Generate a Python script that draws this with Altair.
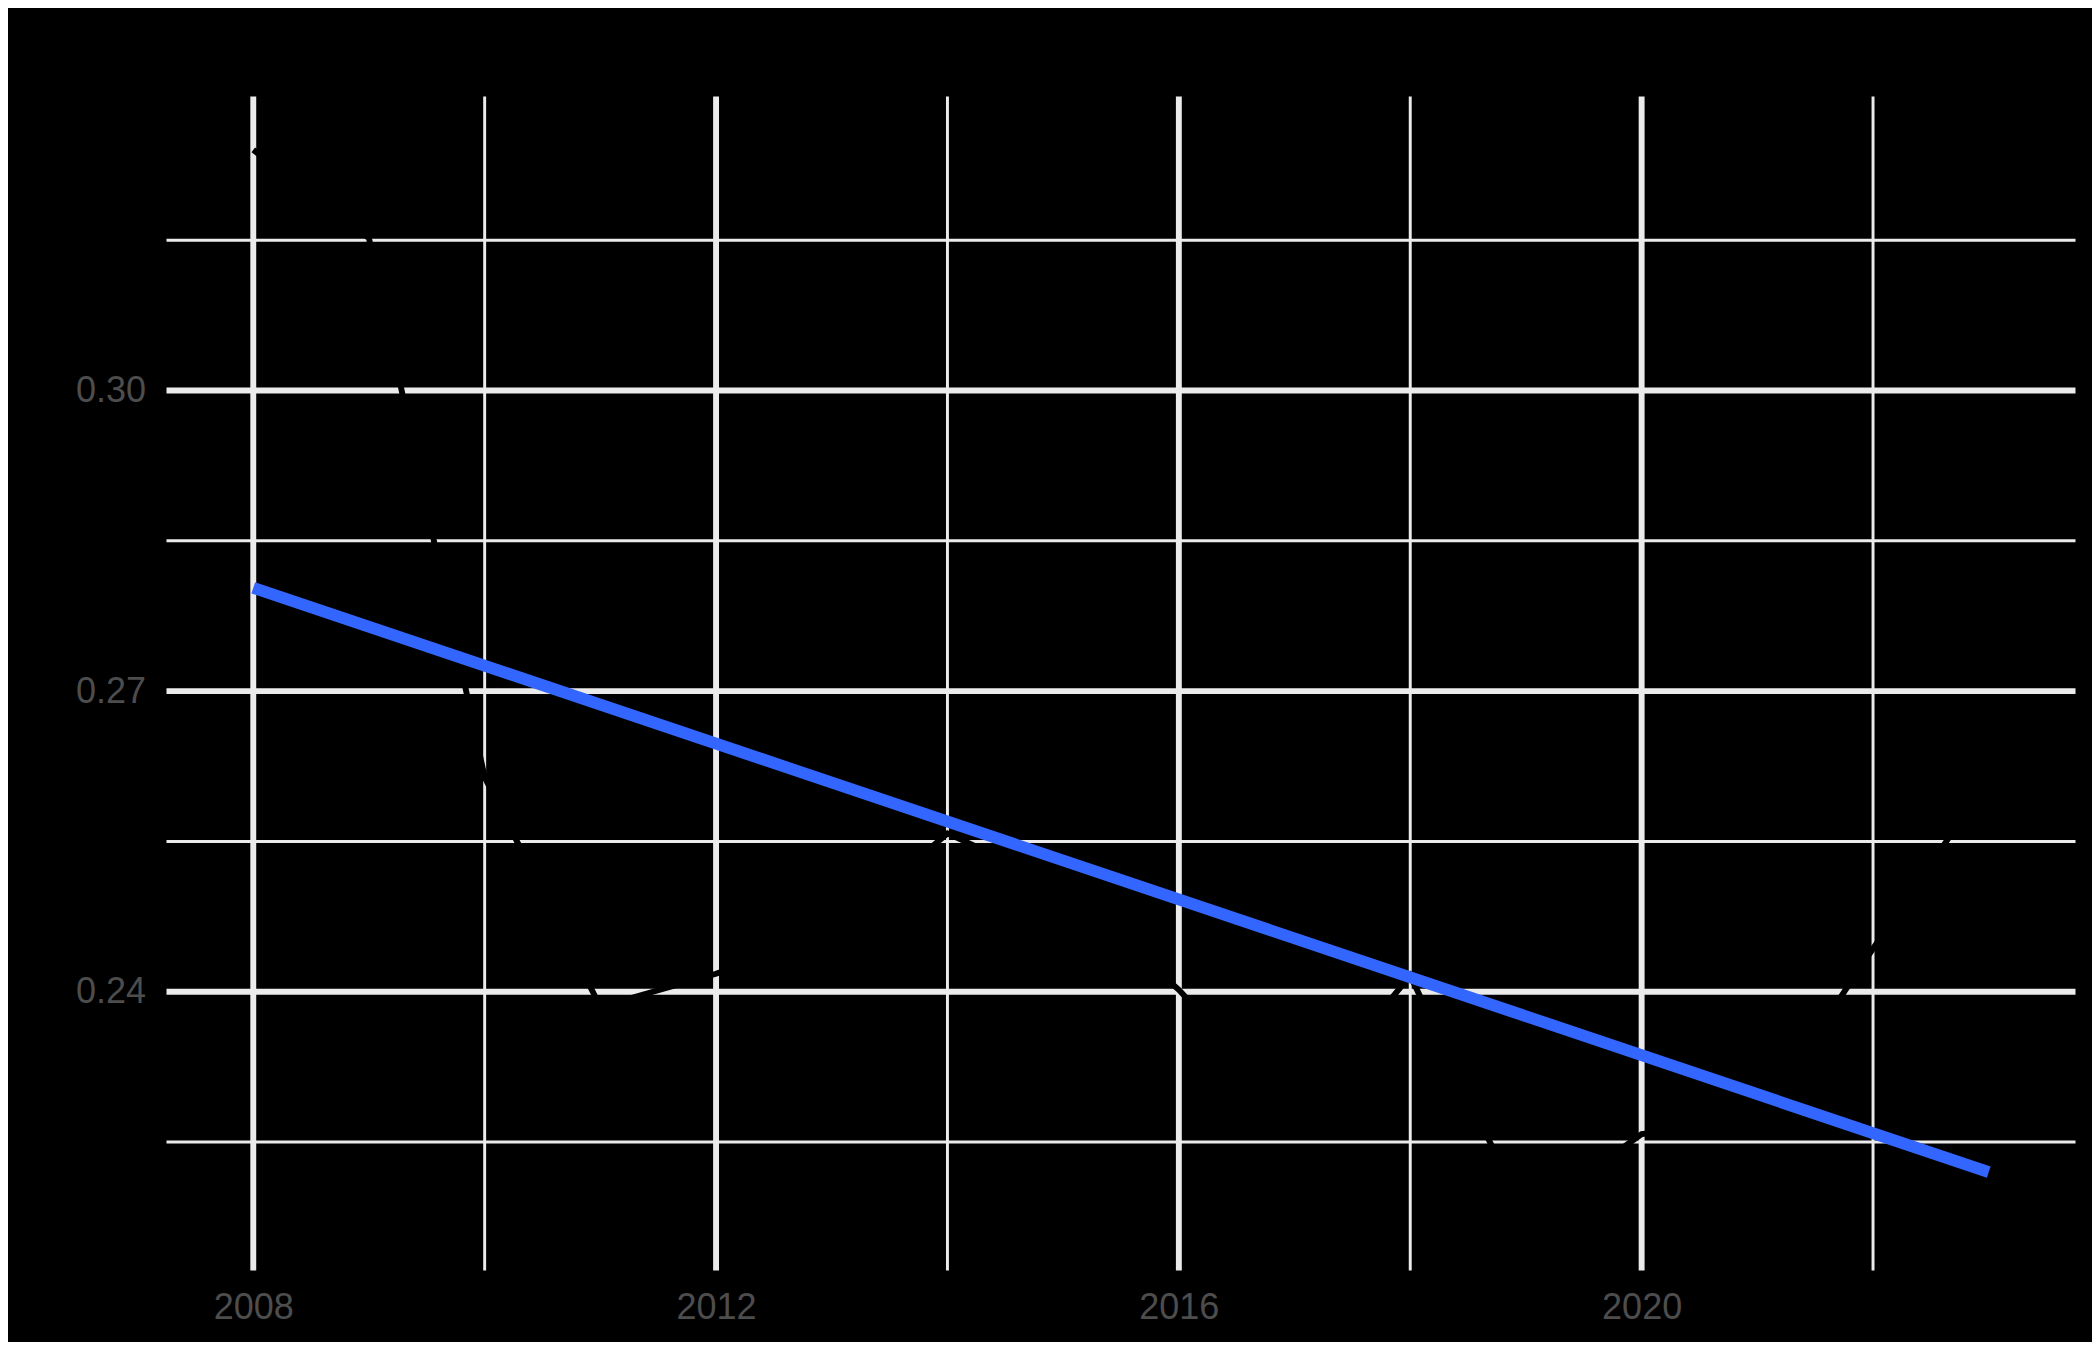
import altair as alt
import pandas as pd

# ---- data ----
years = [2008, 2009, 2010, 2011, 2012, 2013, 2014, 2015,
         2016, 2017, 2018, 2019, 2020, 2021, 2022, 2023]
values = [0.3240, 0.3152, 0.2614, 0.2385, 0.2418, 0.2460, 0.2558, 0.2505,
          0.2402, 0.2277, 0.2416, 0.2175, 0.2258, 0.2270, 0.2443, 0.2612]

x_major = [2008, 2012, 2016, 2020]
x_minor = [2010, 2014, 2018, 2022]
y_major = [0.24, 0.27, 0.30]
y_minor = [0.225, 0.255, 0.285, 0.315]

df = pd.DataFrame({"year": years, "value": values})

# ggplot-style 5% expansion of the data range
xr = max(years) - min(years)
yr = max(values) - min(values)
x_dom = [min(years) - 0.05 * xr, max(years) + 0.05 * xr]
y_dom = [min(values) - 0.05 * yr, max(values) + 0.05 * yr]

xscale = alt.Scale(domain=x_dom, nice=False, zero=False)
yscale = alt.Scale(domain=y_dom, nice=False, zero=False)

label_color = "#4D4D4D"
font = "Liberation Sans"
xaxis = alt.Axis(values=x_major, format="d", grid=False, ticks=False, domain=False,
                 labelColor=label_color, labelFontSize=36, labelFont=font,
                 labelPadding=20, title=None)
yaxis = alt.Axis(values=y_major, format=".2f", grid=False, ticks=False, domain=False,
                 labelColor=label_color, labelFontSize=36, labelFont=font,
                 labelPadding=21, title=None)

grid_col = "#EBEBEB"

vmaj = alt.Chart(pd.DataFrame({"year": x_major})).mark_rule(
    color=grid_col, strokeWidth=5.9, strokeCap="butt"
).encode(x=alt.X("year:Q", scale=xscale, axis=xaxis))

vmin = alt.Chart(pd.DataFrame({"year": x_minor})).mark_rule(
    color=grid_col, strokeWidth=2.95, strokeCap="butt"
).encode(x=alt.X("year:Q", scale=xscale, axis=xaxis))

hmaj = alt.Chart(pd.DataFrame({"value": y_major})).mark_rule(
    color=grid_col, strokeWidth=5.9, strokeCap="butt"
).encode(y=alt.Y("value:Q", scale=yscale, axis=yaxis))

hmin = alt.Chart(pd.DataFrame({"value": y_minor})).mark_rule(
    color=grid_col, strokeWidth=2.95, strokeCap="butt"
).encode(y=alt.Y("value:Q", scale=yscale, axis=yaxis))

line = alt.Chart(df).mark_line(color="black", strokeWidth=5.9).encode(
    x=alt.X("year:Q", scale=xscale, axis=xaxis),
    y=alt.Y("value:Q", scale=yscale, axis=yaxis),
)

trend = alt.Chart(df).transform_regression(
    "year", "value", method="linear"
).mark_line(color="#3366FF", strokeWidth=11.8, strokeCap="butt").encode(
    x=alt.X("year:Q", scale=xscale, axis=xaxis),
    y=alt.Y("value:Q", scale=yscale, axis=yaxis),
)

chart = alt.layer(vmin, vmaj, hmin, hmaj, line, trend).properties(
    width=1909,
    height=1174,
    background="black",
    padding={"left": 158.5, "top": 88.6, "right": 16.5, "bottom": 71.4},
    autosize=alt.AutoSizeParams(type="none"),
).configure_view(stroke=None)

chart.save("out.html", embed_options={"renderer": "svg", "actions": False})
